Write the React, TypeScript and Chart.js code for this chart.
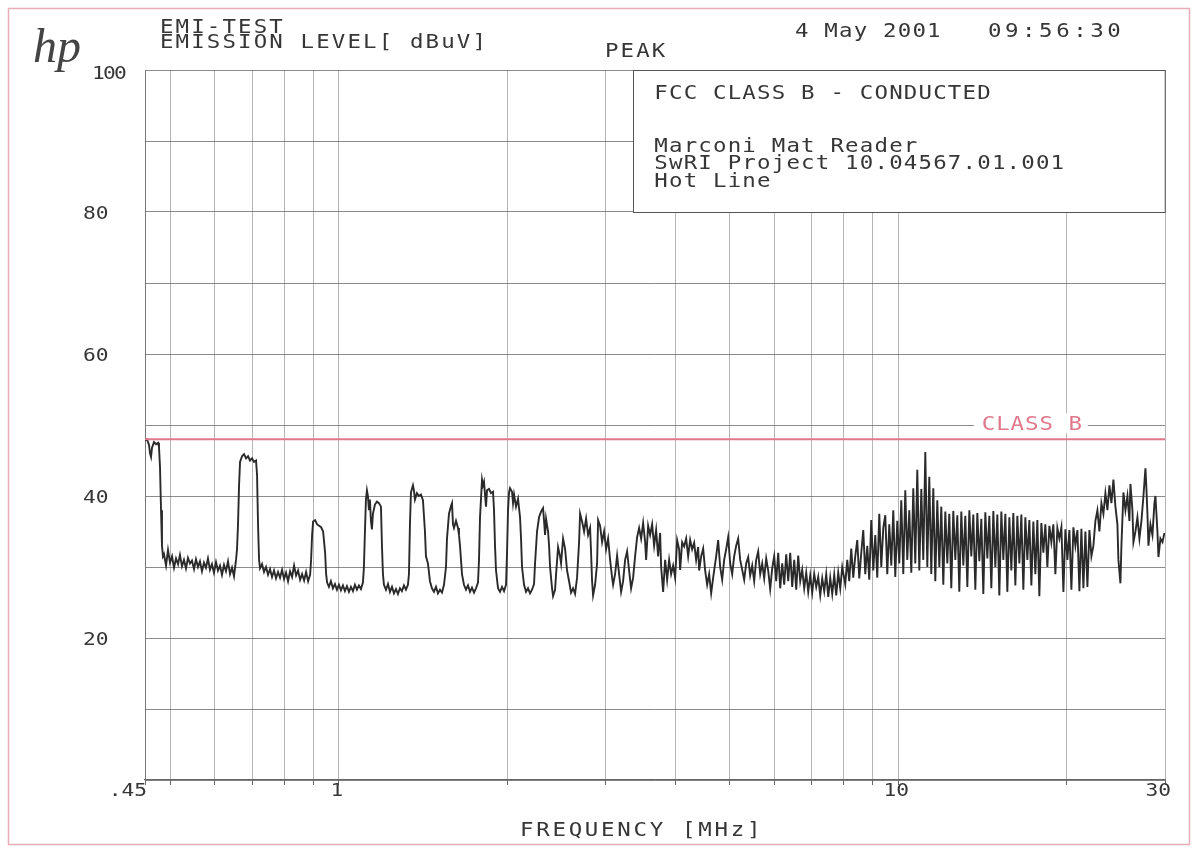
import { useEffect, useRef } from "react";
import { Chart, registerables } from "chart.js";

Chart.register(...registerables);

// Peak-detector sweep of the line conductor: [frequency MHz, level dBuV]
const peakScan: [number, number][] = [
  [0.45, 47.8], [0.4537, 48.0], [0.4575, 47.2], [0.4594, 46.0], [0.4613, 45.5], [0.4632, 46.8], [0.467, 47.6], [0.4709, 47.3],
  [0.4748, 47.5], [0.4767, 46.9], [0.4787, 44.0], [0.4807, 38.0], [0.4826, 33.0], [0.4846, 31.5],
  [0.4866, 31.8], [0.4907, 30.2], [0.4947, 32.4], [0.4988, 30.6], [0.503, 31.5], [0.5071, 29.9], [0.5113, 31.2], [0.5156, 30.4],
  [0.5197, 31.7], [0.524, 30.1], [0.5283, 31.0], [0.5327, 29.8], [0.5371, 31.3], [0.5416, 30.5], [0.546, 30.9], [0.5506, 29.7],
  [0.5551, 31.1], [0.5597, 30.0], [0.5643, 30.8], [0.569, 29.4], [0.5737, 30.6], [0.5784, 29.9], [0.5832, 31.2], [0.588, 29.6],
  [0.5929, 30.4], [0.5978, 29.2], [0.6028, 30.7], [0.6077, 29.5], [0.6128, 30.2], [0.6179, 28.9], [0.623, 30.3], [0.6281, 29.4],
  [0.6333, 30.8], [0.6386, 29.0], [0.6439, 29.9], [0.6492, 28.7], [0.6546, 31.0], [0.6573, 32.5],
  [0.66, 36.0], [0.6628, 41.5], [0.6655, 44.8], [0.671, 45.6], [0.6766, 45.9], [0.6822, 45.3], [0.6878, 45.6], [0.6935, 45.0],
  [0.6992, 45.3], [0.705, 44.8], [0.7108, 45.0], [0.7138, 43.0], [0.7167, 36.0], [0.7197, 31.0],
  [0.7226, 29.8], [0.7286, 30.4], [0.7346, 29.3], [0.7407, 30.0], [0.7468, 28.9], [0.753, 29.7], [0.7592, 28.6], [0.7655, 29.5],
  [0.7718, 28.4], [0.7782, 29.3], [0.7847, 28.5], [0.7912, 29.6], [0.7977, 28.3], [0.8043, 29.2], [0.811, 28.0], [0.8177, 29.4],
  [0.8245, 28.6], [0.8313, 30.2], [0.8382, 28.8], [0.8451, 29.5], [0.8522, 28.2], [0.8592, 29.0], [0.8664, 28.1], [0.8735, 29.3],
  [0.8808, 28.0], [0.8881, 28.9],
  [0.8917, 31.0], [0.8954, 34.5], [0.8991, 36.4], [0.9066, 36.6], [0.9141, 36.0], [0.9216, 35.8], [0.9292, 35.6], [0.9369, 35.0],
  [0.9447, 32.0], [0.9486, 29.0], [0.9525, 27.8],
  [0.9596, 27.2], [0.9675, 28.0], [0.9756, 27.0], [0.9837, 27.6], [0.9918, 26.8], [1.0, 27.5], [1.0083, 26.7], [1.0166, 27.4],
  [1.025, 26.6], [1.0335, 27.3], [1.0421, 26.5], [1.0507, 27.2], [1.0594, 26.6], [1.0681, 27.5], [1.077, 26.8], [1.0859, 27.4],
  [1.0948, 26.9], [1.1039, 27.8],
  [1.1084, 30.0], [1.113, 35.0], [1.1176, 39.5], [1.1222, 40.8], [1.1268, 40.0], [1.1315, 38.0], [1.1361, 39.5], [1.1408, 36.5],
  [1.1455, 35.3], [1.1503, 37.5], [1.1598, 38.8], [1.1694, 39.2], [1.1791, 39.0], [1.1889, 38.5], [1.1938, 33.0], [1.1987, 29.0],
  [1.2037, 27.5],
  [1.2136, 26.8], [1.2237, 27.6], [1.2338, 26.5], [1.244, 27.2], [1.2543, 26.3], [1.2647, 26.9], [1.2751, 26.2], [1.2855, 27.0],
  [1.2961, 26.6], [1.3069, 27.4], [1.3177, 26.8], [1.3286, 27.5],
  [1.3341, 29.0], [1.3396, 36.0], [1.3451, 40.5], [1.3563, 41.5], [1.3619, 40.8], [1.3675, 39.5], [1.3788, 40.4], [1.3902, 40.0],
  [1.4017, 40.2], [1.4133, 39.4], [1.425, 35.0], [1.4309, 31.5], [1.4427, 30.5], [1.4546, 28.0], [1.4667, 27.0], [1.4788, 26.5],
  [1.4911, 27.2], [1.5035, 26.3], [1.516, 26.8], [1.5285, 26.4], [1.5412, 27.5], [1.5539, 30.0],
  [1.5603, 34.0], [1.5732, 37.5], [1.5862, 38.6], [1.5928, 39.0], [1.5994, 36.0], [1.606, 35.5], [1.6193, 36.5], [1.6327, 35.5],
  [1.6394, 34.5], [1.6461, 33.0], [1.6597, 29.0], [1.6734, 27.5], [1.6873, 26.8], [1.7013, 27.4], [1.7154, 26.5], [1.7295, 27.1],
  [1.7439, 26.4], [1.7583, 27.0], [1.7728, 27.8], [1.7802, 31.0],
  [1.7876, 37.0], [1.8024, 42.3], [1.8098, 41.5], [1.8173, 42.0], [1.8248, 40.2], [1.8323, 38.5], [1.8399, 40.8], [1.8551, 41.0],
  [1.8704, 40.4], [1.8859, 40.6], [1.8937, 38.0], [1.9015, 33.0], [1.9094, 29.5], [1.9252, 27.0], [1.9411, 26.5], [1.9572, 27.2],
  [1.9733, 26.6], [1.9896, 27.5],
  [1.9979, 32.0], [2.0061, 38.0], [2.0144, 40.5], [2.0227, 41.1], [2.0395, 40.6], [2.0479, 39.0], [2.0564, 40.2], [2.0734, 38.5],
  [2.0905, 39.6], [2.1078, 37.0], [2.1165, 34.0], [2.1252, 30.0], [2.1428, 27.5], [2.1605, 26.5], [2.1784, 27.0], [2.1964, 26.3],
  [2.2146, 26.8], [2.2329, 27.6],
  [2.2421, 30.5], [2.2607, 35.0], [2.2794, 37.0], [2.2984, 37.8], [2.3174, 38.3], [2.327, 36.5], [2.3366, 34.5], [2.3462, 36.8],
  [2.3656, 35.0], [2.3754, 33.0], [2.3852, 30.0], [2.4049, 27.0], [2.4149, 25.9], [2.4348, 26.8],
  [2.4449, 29.0], [2.4651, 32.8], [2.4855, 31.5], [2.4958, 30.5], [2.5164, 34.0], [2.5372, 32.6], [2.5582, 29.5], [2.5794, 28.0],
  [2.6007, 26.4], [2.6222, 27.0], [2.6439, 26.2], [2.6657, 28.5],
  [2.6878, 33.5], [2.699, 37.5], [2.7213, 36.4], [2.7438, 35.0], [2.7665, 36.8], [2.7894, 34.5], [2.8125, 35.5], [2.8241, 32.0],
  [2.8357, 28.0], [2.8474, 26.0], [2.871, 27.5], [2.8947, 30.5],
  [2.9067, 36.6], [2.9308, 35.8], [2.955, 33.5], [2.9795, 35.0], [3.0041, 32.5], [3.029, 34.0], [3.054, 31.0], [3.0793, 28.5],
  [3.092, 27.5], [3.1176, 29.0], [3.1434, 31.6], [3.1694, 29.0], [3.1957, 26.5], [3.2221, 28.0], [3.2487, 31.0], [3.2756, 32.2],
  [3.3027, 29.5], [3.33, 27.0], [3.3576, 28.5], [3.3853, 31.5],
  [3.4133, 34.2], [3.4416, 35.5], [3.4702, 34.0], [3.4989, 36.2], [3.5278, 33.5], [3.5424, 31.0], [3.5717, 35.8], [3.6012, 34.5],
  [3.631, 36.0], [3.6611, 33.0], [3.6913, 35.2], [3.7219, 31.5], [3.7527, 34.8], [3.7682, 30.0], [3.7994, 26.5], [3.8308, 31.0],
  [3.8625, 28.2], [3.8944, 31.0], [3.9266, 29.0], [3.9591, 30.2], [3.9919, 28.5], [4.0249, 33.8], [4.0582, 32.5], [4.0751, 29.6],
  [4.1088, 33.5], [4.1428, 32.9], [4.177, 34.0], [4.2116, 31.5], [4.2464, 33.8], [4.2815, 32.5], [4.3169, 33.4], [4.3526, 31.0],
  [4.3886, 32.8], [4.4068, 29.5], [4.4433, 31.5], [4.4801, 32.6],
  [4.5172, 29.5], [4.5545, 27.5], [4.5922, 29.0], [4.6302, 26.3], [4.6685, 28.5], [4.7264, 31.5], [4.7655, 33.8], [4.8051, 30.0],
  [4.8448, 28.2], [4.8849, 31.0], [4.9253, 32.5], [4.966, 34.2], [5.0071, 30.5], [5.0485, 29.0], [5.0903, 31.5], [5.1324, 33.0],
  [5.1748, 34.0], [5.2178, 31.0],
  [5.261, 29.6], [5.3045, 28.2], [5.3484, 30.5], [5.3926, 31.4], [5.4372, 28.8], [5.4822, 30.2], [5.5275, 28.0], [5.5732, 31.0],
  [5.6193, 32.2], [5.666, 29.0], [5.7129, 30.5], [5.7601, 28.4], [5.8077, 31.2], [5.8557, 29.5], [5.9041, 26.9], [5.953, 29.8],
  [6.0022, 31.5], [6.0518, 28.0], [6.1019, 32.0], [6.1527, 27.0],
  [6.2036, 30.5], [6.2549, 27.5], [6.3066, 31.8], [6.3588, 28.0], [6.4113, 32.0], [6.4644, 27.2], [6.5178, 31.0], [6.5717, 26.8],
  [6.626, 31.6], [6.6811, 28.0], [6.7364, 29.6], [6.7921, 27.0], [6.8483, 29.2], [6.9049, 26.5], [6.962, 28.8], [7.0196, 26.4],
  [7.0776, 29.0], [7.1362, 27.2], [7.1952, 28.6], [7.2549, 26.0],
  [7.3149, 28.4], [7.3754, 26.6], [7.4364, 29.0], [7.4979, 25.8], [7.5599, 28.5], [7.6224, 26.2], [7.6854, 28.9], [7.749, 26.0],
  [7.8131, 29.2], [7.8781, 27.0], [7.9432, 30.0],
  [8.0419, 27.6], [8.1084, 31.0], [8.1755, 28.0], [8.2431, 32.6], [8.3113, 28.5], [8.38, 31.5], [8.4493, 33.8], [8.5193, 28.4],
  [8.59, 32.0], [8.6612, 35.2], [8.7329, 29.0], [8.8051, 33.0], [8.8779, 28.2], [8.9514, 36.6], [9.0254, 29.5], [9.1, 34.5],
  [9.1753, 28.5], [9.2513, 37.5], [9.328, 30.0], [9.4052, 35.5], [9.483, 37.3], [9.5614, 29.0], [9.6405, 36.0], [9.7203, 30.2],
  [9.8007, 38.0], [9.8818, 28.6], [9.9636, 36.5],
  [10.046, 30.5], [10.129, 39.4], [10.213, 29.0], [10.297, 40.8], [10.382, 31.0], [10.468, 38.0], [10.555, 29.2], [10.642, 41.1],
  [10.73, 30.5], [10.819, 43.7], [10.909, 29.5], [10.999, 41.0], [11.09, 31.0], [11.182, 46.2], [11.274, 30.0], [11.367, 42.7],
  [11.461, 29.0], [11.556, 41.1], [11.652, 28.0], [11.748, 39.4], [11.846, 30.0], [11.943, 38.5], [12.042, 27.5], [12.142, 37.8],
  [12.242, 30.5], [12.343, 37.5], [12.445, 27.0], [12.548, 37.9], [12.652, 31.0], [12.757, 37.3], [12.862, 26.5], [12.969, 37.8],
  [13.076, 30.2], [13.184, 37.2], [13.294, 27.2], [13.404, 38.0], [13.514, 31.5], [13.626, 37.4], [13.739, 26.8], [13.853, 37.6],
  [13.967, 30.8], [14.083, 36.8], [14.199, 26.2], [14.317, 37.7], [14.435, 31.2], [14.555, 37.2], [14.675, 27.0], [14.797, 37.9],
  [14.919, 30.0], [15.043, 37.4], [15.167, 26.0], [15.293, 37.8], [15.419, 31.0], [15.547, 37.5], [15.675, 26.5], [15.805, 37.0],
  [15.936, 29.5], [16.067, 37.6], [16.2, 27.4], [16.334, 37.2], [16.469, 30.5], [16.606, 37.4], [16.743, 26.8], [16.881, 37.0],
  [17.021, 31.0], [17.162, 36.6], [17.304, 27.4], [17.447, 36.4], [17.591, 29.0], [17.737, 36.6], [17.883, 25.9], [18.032, 36.2],
  [18.181, 32.0], [18.331, 36.0], [18.483, 30.0], [18.636, 35.8], [18.79, 33.5], [18.945, 36.0], [19.102, 29.0], [19.26, 35.5],
  [19.419, 34.0], [19.582, 35.6], [19.744, 26.5], [19.907, 35.3], [20.072, 31.0], [20.238, 35.2], [20.405, 26.8], [20.574, 35.6],
  [20.744, 33.0], [20.916, 35.2], [21.089, 26.6], [21.263, 35.4], [21.439, 27.0], [21.616, 35.0], [21.795, 27.2], [21.976, 35.2],
  [22.158, 31.5], [22.341, 33.0], [22.526, 36.5], [22.712, 38.0], [22.9, 35.0], [23.089, 39.0], [23.28, 37.5], [23.473, 40.4],
  [23.667, 38.0], [23.863, 41.5], [24.06, 39.0], [24.259, 42.3], [24.46, 38.5], [24.662, 36.0], [24.764, 31.0], [24.969, 27.7],
  [25.072, 33.0], [25.28, 40.5], [25.489, 38.0], [25.7, 40.0], [25.912, 36.5], [26.019, 41.7], [26.234, 38.0], [26.343, 33.5],
  [26.561, 35.0], [26.78, 37.0], [27.002, 34.0], [27.226, 36.5], [27.451, 40.0], [27.678, 43.9], [27.792, 41.0], [27.907, 37.5],
  [28.022, 33.0], [28.254, 36.0], [28.487, 34.5], [28.723, 39.0], [28.842, 40.0], [29.08, 35.0], [29.201, 31.4], [29.443, 34.0],
  [29.687, 33.5], [29.932, 34.8],
];

// FCC Part 15 Class B conducted limit, dBuV
const classBLimitDbuV = 48;
const freqMinMHz = 0.45;
const freqMaxMHz = 30;
const levelMinDbuV = 0;
const levelMaxDbuV = 100;
const levelStepDbuV = 10;

// vertical grid: plotter draws the 1-2-3...9 decade lines
const freqGridMHz = [0.45, 0.5, 0.6, 0.7, 0.8, 0.9, 1, 2, 3, 4, 5, 6, 7, 8, 9, 10, 20, 30];
const freqTickLabels: [number, string][] = [[0.45, ".45"], [1, "1"], [10, "10"], [30, "30"]];
const levelTickLabels = [20, 40, 60, 80, 100];

// note box spans from this frequency to the right edge, 80..100 dBuV
const noteBoxFromMHz = 3.36;
const noteBoxLevels = [80, 100];
const noteLines = ["FCC CLASS B - CONDUCTED", "", "", "Marconi Mat Reader", "SwRI Project 10.04567.01.001", "Hot Line"];

const PLOT_FONT = '"DejaVu Sans Mono", "Liberation Mono", monospace';
const INK = "#363636";
const LIMIT_PINK = "#e0788c";

// plotter lettering: slightly widened monospace glyphs
function plotText(
  ctx: CanvasRenderingContext2D,
  text: string,
  x: number,
  y: number,
  size: number,
  spacing: number,
  color: string,
  align: CanvasTextAlign = "left",
  stretch = 1.18
) {
  ctx.save();
  ctx.translate(x, y);
  ctx.scale(stretch, 1);
  ctx.font = `${size}px ${PLOT_FONT}`;
  (ctx as any).letterSpacing = `${spacing}px`;
  ctx.fillStyle = color;
  ctx.textAlign = align;
  ctx.textBaseline = "alphabetic";
  ctx.fillText(text, 0, 0);
  ctx.restore();
}

const plotterDecor = {
  id: "plotterDecor",
  beforeDraw(chart: any) {
    const ctx: CanvasRenderingContext2D = chart.ctx;
    ctx.save();
    ctx.fillStyle = "#ffffff";
    ctx.fillRect(0, 0, chart.width, chart.height);
    // paper edge
    ctx.strokeStyle = "rgba(226,160,172,0.85)";
    ctx.lineWidth = 1.5;
    ctx.strokeRect(8.5, 8.5, chart.width - 17, chart.height - 12);
    ctx.restore();
  },
  beforeDatasetsDraw(chart: any) {
    const ctx: CanvasRenderingContext2D = chart.ctx;
    const xs = chart.scales.x;
    const ys = chart.scales.y;
    const left = xs.getPixelForValue(noteBoxFromMHz);
    const right = xs.getPixelForValue(freqMaxMHz);
    const top = ys.getPixelForValue(noteBoxLevels[1]);
    const bottom = ys.getPixelForValue(noteBoxLevels[0]);
    ctx.save();
    ctx.fillStyle = "#ffffff";
    ctx.fillRect(left, top, right - left, bottom - top);
    ctx.strokeStyle = "#555";
    ctx.lineWidth = 1;
    ctx.strokeRect(Math.round(left) + 0.5, Math.round(top) + 0.5, right - left, bottom - top);
    ctx.restore();
    noteLines.forEach((line, i) => {
      if (line) plotText(ctx, line, left + 21, top + 29 + i * 17.5, 19, 1.0, INK);
    });

    // limit label with a gap in the grid behind it
    const lx = xs.getPixelForValue(21.3);
    const ly = ys.getPixelForValue(classBLimitDbuV) - 9;
    ctx.save();
    ctx.fillStyle = "#ffffff";
    ctx.fillRect(lx - 108, ly - 17, 114, 20);
    ctx.restore();
    plotText(ctx, "CLASS B", lx + 1, ly, 19, 0.8, LIMIT_PINK, "right");
  },
  afterDraw(chart: any) {
    const ctx: CanvasRenderingContext2D = chart.ctx;
    const xs = chart.scales.x;
    const ys = chart.scales.y;
    const area = chart.chartArea;

    // logo
    ctx.save();
    ctx.font = 'italic 48px "Liberation Serif", serif';
    ctx.fillStyle = "#444";
    ctx.fillText("hp", 33, 62);
    ctx.restore();

    plotText(ctx, "EMI-TEST", 160, 33, 19, 1.8, INK);
    plotText(ctx, "EMISSION LEVEL[ dBuV]", 160, 48, 19, 1.8, INK);
    plotText(ctx, "PEAK", 605, 57, 19, 1.8, INK);
    plotText(ctx, "4 May 2001", 795, 37, 19, 1.0, INK);
    plotText(ctx, "09:56:30", 988, 37, 19, 3.0, INK);

    levelTickLabels.forEach((v) => {
      const y = ys.getPixelForValue(v);
      if (v === levelMaxDbuV) plotText(ctx, String(v), 92, y + 9, 18, -1.5, INK);
      else plotText(ctx, String(v), 83, y + 7, 18, 0, INK);
    });

    freqTickLabels.forEach(([f, label]) => {
      const x = xs.getPixelForValue(f);
      let align: CanvasTextAlign = "center";
      let dx = -2;
      if (f === freqMinMHz) { align = "right"; dx = 2; }
      if (f === freqMaxMHz) { align = "right"; dx = 6; }
      plotText(ctx, label, x + dx, area.bottom + 16, 18, 0, INK, align);
    });

    plotText(ctx, "FREQUENCY [MHz]", 520, 836, 19, 2.3, INK);
  },
};

export default function App() {
  const canvasRef = useRef<HTMLCanvasElement | null>(null);

  useEffect(() => {
    const canvas = canvasRef.current;
    if (!canvas) return;
    const chart = new Chart(canvas, {
      type: "line",
      data: {
        datasets: [
          {
            label: "Peak",
            data: peakScan.map(([f, v]) => ({ x: f, y: v })),
            borderColor: "#2a2a2a",
            borderWidth: 1.9,
            pointRadius: 0,
            tension: 0,
            order: 1,
          },
          {
            label: "Class B",
            data: [
              { x: freqMinMHz, y: classBLimitDbuV },
              { x: freqMaxMHz, y: classBLimitDbuV },
            ],
            borderColor: LIMIT_PINK,
            borderWidth: 2,
            pointRadius: 0,
            order: 0,
          },
        ],
      },
      options: {
        responsive: false,
        animation: false,
        events: [],
        layout: { padding: { left: 145, right: 33, top: 70, bottom: 63 } },
        plugins: {
          legend: { display: false },
          tooltip: { enabled: false },
        },
        scales: {
          x: {
            type: "logarithmic",
            min: freqMinMHz,
            max: freqMaxMHz,
            afterBuildTicks: (scale: any) => {
              scale.ticks = freqGridMHz.map((v) => ({ value: v }));
            },
            ticks: { display: false },
            grid: {
              color: "rgba(120,120,120,0.55)",
              lineWidth: 1,
              drawTicks: true,
              tickLength: 5,
              tickColor: "#666",
            },
            border: { display: true, color: "#666", width: 1.2 },
          },
          y: {
            type: "linear",
            min: levelMinDbuV,
            max: levelMaxDbuV,
            ticks: { display: false, stepSize: levelStepDbuV },
            grid: { color: "rgba(90,90,90,0.7)", lineWidth: 1, drawTicks: false },
            border: { display: true, color: "#777", width: 1 },
          },
        },
      },
      plugins: [plotterDecor],
    });
    return () => chart.destroy();
  }, []);

  return (
    <div style={{ position: "absolute", left: 0, top: 0, width: 1198, height: 848, background: "#fff" }}>
      <canvas ref={canvasRef} width={1198} height={848} style={{ display: "block" }} />
    </div>
  );
}
